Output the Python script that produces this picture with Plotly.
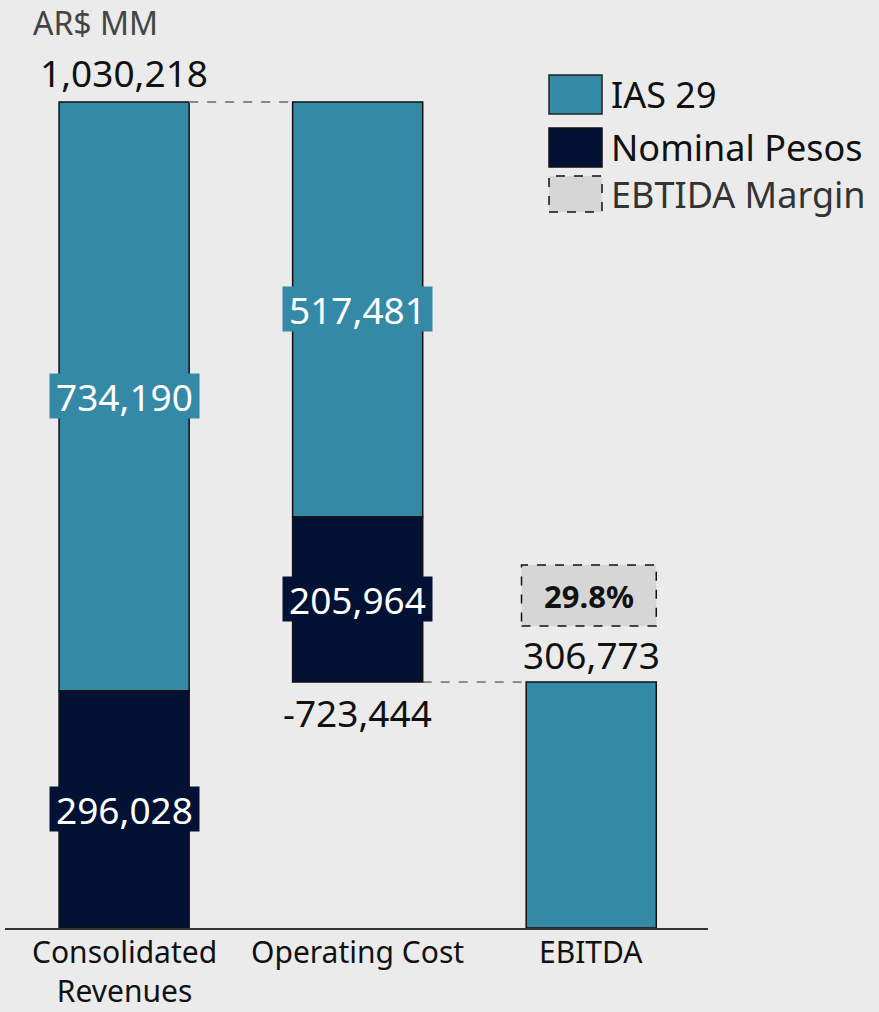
import plotly.graph_objects as go

categories = ["Consolidated<br>Revenues", "Operating Cost", "EBITDA"]
ias29 = [734190, 517481, 306773]
nominal = [296028, 205964, None]
totals = [1030218, -723444, 306773]
margin_label = "29.8%"
unit_label = "AR$ MM"
legend_names = ["IAS 29", "Nominal Pesos", "EBTIDA Margin"]

TEAL = "#3489A6"
NAVY = "#031234"
BG = "#EBEBEB"
FONT = "Noto Sans"
NUM = 37

W, H = 879, 1012
L, R, T, B = 5, 171, 40, 84
PW, PH = W - L - R, H - T - B
YMAX = totals[0] * PH / 826.0
BW = 0.557

# stacked positions
rev_top = totals[0]
op_bottom = rev_top + totals[1]
ias_base = [nominal[0], rev_top - ias29[1], 0]
nom_base = [0, op_bottom, 0]

def fmt(v):
    return f"{v:,.0f}"

def px(xp):
    return (xp - L) / PW

def py(yp):
    return (H - B - yp) / PH

fig = go.Figure()
fig.add_trace(go.Bar(x=[0, 1, 2], y=ias29, base=ias_base, width=BW, name=legend_names[0],
                     marker=dict(color=TEAL, line=dict(color="#111", width=1.5)),
                     showlegend=False, hoverinfo="skip"))
fig.add_trace(go.Bar(x=[0, 1, 2], y=nominal, base=nom_base, width=BW, name=legend_names[1],
                     marker=dict(color=NAVY, line=dict(color="#111", width=1.5)),
                     showlegend=False, hoverinfo="skip"))

ann = []
shapes = []
# inside labels
for i in range(2):
    ann.append(dict(x=i, y=ias_base[i] + ias29[i] / 2, text=fmt(ias29[i]), showarrow=False,
                    font=dict(family=FONT, size=NUM, color="white"), bgcolor=TEAL,
                    width=145, height=40, borderpad=2))
    ann.append(dict(x=i, y=nom_base[i] + nominal[i] / 2, text=fmt(nominal[i]), showarrow=False,
                    font=dict(family=FONT, size=NUM, color="white"), bgcolor=NAVY,
                    width=145, height=40, borderpad=2))
# total labels
ann.append(dict(x=0, y=rev_top, text=fmt(totals[0]), showarrow=False, yanchor="bottom", yshift=2,
                font=dict(family=FONT, size=NUM, color="#111")))
ann.append(dict(x=1, y=op_bottom, text=fmt(totals[1]), showarrow=False, yanchor="top", yshift=-3,
                font=dict(family=FONT, size=NUM, color="#111")))
ann.append(dict(x=2, y=totals[2], text=fmt(totals[2]), showarrow=False, yanchor="bottom", yshift=0,
                font=dict(family=FONT, size=NUM, color="#111")))
# margin box
m_y0 = totals[2] + 56 * YMAX / PH
m_y1 = totals[2] + 117 * YMAX / PH
shapes.append(dict(type="rect", xref="x", yref="y", x0=2 - BW / 2 - 0.02, x1=2 + BW / 2,
                   y0=m_y0, y1=m_y1, fillcolor="#D6D6D6",
                   line=dict(color="#111", width=1.5, dash="dash")))
ann.append(dict(x=2 - 0.01, y=(m_y0 + m_y1) / 2, text="<b>" + margin_label + "</b>", showarrow=False,
                font=dict(family=FONT, size=31, color="#111")))
# connectors
shapes.append(dict(type="line", xref="x", yref="y", x0=BW / 2, x1=1 - BW / 2, y0=rev_top, y1=rev_top,
                   line=dict(color="#888", width=2, dash="dash")))
shapes.append(dict(type="line", xref="x", yref="y", x0=1 + BW / 2, x1=2 - BW / 2, y0=op_bottom, y1=op_bottom,
                   line=dict(color="#333", width=1, dash="dash")))

# category labels under the axis
for i, cat in enumerate(categories):
    ann.append(dict(x=i, xref="x", yref="paper", y=py(929), text=cat, showarrow=False,
                    yanchor="top", font=dict(family=FONT, size=30, color="#111")))

# legend
leg_boxes = [(75, 114, TEAL, "#222", "solid"), (128, 167, NAVY, "#111", "solid"), (176, 212, "#D6D6D6", "#111", "dash")]
leg_colors = ["#111", "#111", "#333"]
for (y0, y1, fc, lc, dash), name, tc in zip(leg_boxes, legend_names, leg_colors):
    shapes.append(dict(type="rect", xref="paper", yref="paper", x0=px(549), x1=px(602),
                       y0=py(y1), y1=py(y0), fillcolor=fc, line=dict(color=lc, width=1.5, dash=dash)))
    ann.append(dict(xref="paper", yref="paper", x=px(609), y=py((y0 + y1) / 2), text=name,
                    showarrow=False, xanchor="left", yanchor="middle",
                    font=dict(family=FONT, size=36, color=tc)))

ann.append(dict(xref="paper", yref="paper", x=px(31), y=py(23), text=unit_label, showarrow=False,
                xanchor="left", yanchor="middle", font=dict(family=FONT, size=32, color="#444")))

fig.update_layout(
    width=W, height=H, margin=dict(l=L, r=R, t=T, b=B, autoexpand=False),
    paper_bgcolor=BG, plot_bgcolor=BG, barmode="overlay",
    annotations=ann, shapes=shapes, showlegend=False,
    xaxis=dict(range=[-0.51, 2.5], tickvals=[0, 1, 2], showticklabels=False, showgrid=False,
               zeroline=False, showline=True, linecolor="#333", linewidth=2, ticks=""),
    yaxis=dict(range=[0, YMAX], visible=False, showgrid=False, zeroline=False),
)
fig.write_html("out.html", config={"displayModeBar": False},
               post_script="document.body.style.margin='0px';document.body.style.background='#EBEBEB';")
